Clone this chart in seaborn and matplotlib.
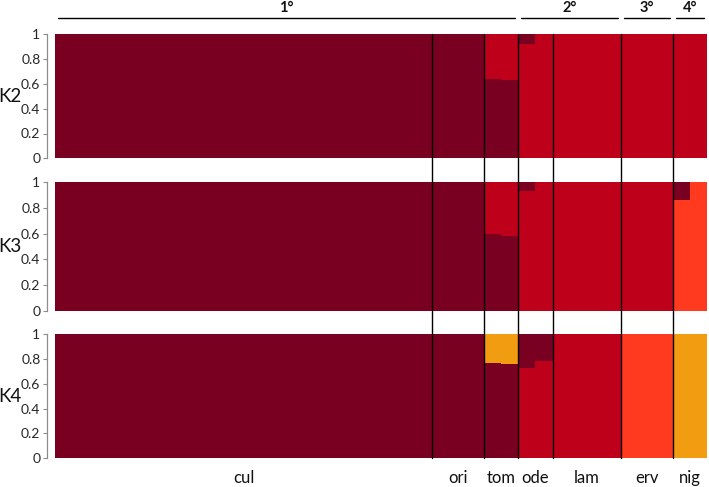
import numpy as np
import pandas as pd
import seaborn as sns
import matplotlib.pyplot as plt
from matplotlib.lines import Line2D
from matplotlib.transforms import blended_transform_factory

sns.set_style("white")
plt.rcParams['font.family'] = ['Lato', 'DejaVu Sans']

# ---------------- data ----------------
groups = ["cul", "ori", "tom", "ode", "lam", "erv", "nig"]
group_sizes = [22, 3, 2, 2, 4, 3, 2]
levels = ["1°", "2°", "3°", "4°"]
level_group_counts = [3, 2, 1, 1]
panel_labels = ["K2", "K3", "K4"]
cluster_colors = ["#7A0022", "#BE001A", "#FF3A1E", "#F29C12"]
yticks = [0, 0.2, 0.4, 0.6, 0.8, 1]
ytick_labels = ["0", "0.2", "0.4", "0.6", "0.8", "1"]

# order: cul (22), ori (3), tom (2), ode (2), lam (4), erv (3), nig (2)
k2_dark = [1, 1, 1, 1, 1, 1, 1, 1, 1, 1, 1, 1, 1, 1, 1, 1, 1, 1, 1, 1, 1, 1, 1, 1, 1, 0.64, 0.63, 0.08, 0, 0, 0, 0, 0, 0, 0, 0, 0, 0]
k2_red = [0, 0, 0, 0, 0, 0, 0, 0, 0, 0, 0, 0, 0, 0, 0, 0, 0, 0, 0, 0, 0, 0, 0, 0, 0, 0.36, 0.37, 0.92, 1, 1, 1, 1, 1, 1, 1, 1, 1, 1]

k3_dark = [1, 1, 1, 1, 1, 1, 1, 1, 1, 1, 1, 1, 1, 1, 1, 1, 1, 1, 1, 1, 1, 1, 1, 1, 1, 0.60, 0.585, 0.065, 0, 0, 0, 0, 0, 0, 0, 0, 0.135, 0]
k3_red = [0, 0, 0, 0, 0, 0, 0, 0, 0, 0, 0, 0, 0, 0, 0, 0, 0, 0, 0, 0, 0, 0, 0, 0, 0, 0.40, 0.415, 0.935, 1, 1, 1, 1, 1, 1, 1, 1, 0, 0]
k3_scarlet = [0, 0, 0, 0, 0, 0, 0, 0, 0, 0, 0, 0, 0, 0, 0, 0, 0, 0, 0, 0, 0, 0, 0, 0, 0, 0, 0, 0, 0, 0, 0, 0, 0, 0, 0, 0, 0.865, 1]

k4_dark = [1, 1, 1, 1, 1, 1, 1, 1, 1, 1, 1, 1, 1, 1, 1, 1, 1, 1, 1, 1, 1, 1, 1, 1, 1, 0.765, 0.755, 0.27, 0.22, 0, 0, 0, 0, 0, 0, 0, 0, 0]
k4_red = [0, 0, 0, 0, 0, 0, 0, 0, 0, 0, 0, 0, 0, 0, 0, 0, 0, 0, 0, 0, 0, 0, 0, 0, 0, 0, 0, 0.73, 0.78, 1, 1, 1, 1, 0, 0, 0, 0, 0]
k4_scarlet = [0, 0, 0, 0, 0, 0, 0, 0, 0, 0, 0, 0, 0, 0, 0, 0, 0, 0, 0, 0, 0, 0, 0, 0, 0, 0, 0, 0, 0, 0, 0, 0, 0, 1, 1, 1, 0, 0]
k4_orange = [0, 0, 0, 0, 0, 0, 0, 0, 0, 0, 0, 0, 0, 0, 0, 0, 0, 0, 0, 0, 0, 0, 0, 0, 0, 0.235, 0.245, 0, 0, 0, 0, 0, 0, 0, 0, 0, 1, 1]

panels = [
    [k2_dark, k2_red],
    [k3_dark, k3_red, k3_scarlet],
    [k4_dark, k4_red, k4_scarlet, k4_orange],
]

# ---------------- layout ----------------
W, H = 709, 487
fig = plt.figure(figsize=(W / 100, H / 100), dpi=100)
left_px, right_px = 55, 707
panel_px = [(34.3, 158.3), (182.3, 310.7), (334.0, 458.3)]

n_ind = len(k2_dark)
idx = list(range(n_ind))
axes = []
for pi, (comps, (ytop, ybot)) in enumerate(zip(panels, panel_px)):
    ax = fig.add_axes([left_px / W, 1 - ybot / H, (right_px - left_px) / W, (ybot - ytop) / H])
    axes.append(ax)
    M = np.array(comps, dtype=float).T  # individuals x clusters
    order = np.argsort(-M, axis=1, kind="stable")
    sorted_vals = np.take_along_axis(M, order, axis=1)
    cum = np.cumsum(sorted_vals, axis=1)
    k = M.shape[1]
    for r in range(k - 1, -1, -1):
        df = pd.DataFrame({"ind": idx, "h": cum[:, r]})
        pal = {i: cluster_colors[order[i, r]] for i in idx}
        sns.barplot(data=df, x="ind", y="h", hue="ind", palette=pal, width=1.0,
                    saturation=1, legend=False, errorbar=None, linewidth=0, ax=ax)
    ax.set_xlim(-0.5, n_ind - 0.5)
    ax.set_ylim(0, 1)
    ax.set_xlabel("")
    ax.set_ylabel("")
    ax.set_xticks([])
    ax.set_yticks(yticks)
    ax.set_yticklabels(ytick_labels, fontsize=6, color="#333333", family="Liberation Sans")
    for s in ["top", "right", "bottom"]:
        ax.spines[s].set_visible(False)
    ax.spines["left"].set_position(("outward", 6))
    ax.spines["left"].set_bounds(0, 1)
    ax.spines["left"].set_color("#8c8c8c")
    ax.spines["left"].set_linewidth(0.9)
    ax.tick_params(axis="y", length=3, width=0.8, color="#8c8c8c", pad=1.5, left=True)
    fig.text(-0.002, 1 - (ytop + ybot) / 2 / H, panel_labels[pi], fontsize=13.5,
             ha="left", va="center", color="#111111")

# group boundaries
bounds = np.cumsum(group_sizes)
starts = np.concatenate([[0], bounds[:-1]])
ax0 = axes[-1]
tr = blended_transform_factory(ax0.transData, fig.transFigure)
y_top_line = 1 - panel_px[0][0] / H
y_bot_line = 1 - panel_px[2][1] / H
for b in bounds[:-1]:
    fig.add_artist(Line2D([b - 0.5, b - 0.5], [y_bot_line, y_top_line], transform=tr,
                          color="black", linewidth=1.0, zorder=10))

# group labels
for g, s, n in zip(groups, starts, group_sizes):
    fig.text(s - 0.5 + n / 2, 1 - 478 / H, g, transform=tr, ha="center", va="center",
             fontsize=12, color="#111111")

# top brackets
gi = 0
for lab, cnt in zip(levels, level_group_counts):
    x0 = starts[gi] - 0.5 + 0.18
    x1 = bounds[gi + cnt - 1] - 0.5 - 0.18
    fig.add_artist(Line2D([x0, x1], [1 - 18 / H, 1 - 18 / H], transform=tr,
                          color="black", linewidth=1.0))
    fig.text((x0 + x1) / 2, 1 - 7.5 / H, lab, transform=tr, ha="center", va="center",
             fontsize=10.5, fontweight="bold", color="#111111")
    gi += cnt

fig.savefig("out.png", dpi=100)
